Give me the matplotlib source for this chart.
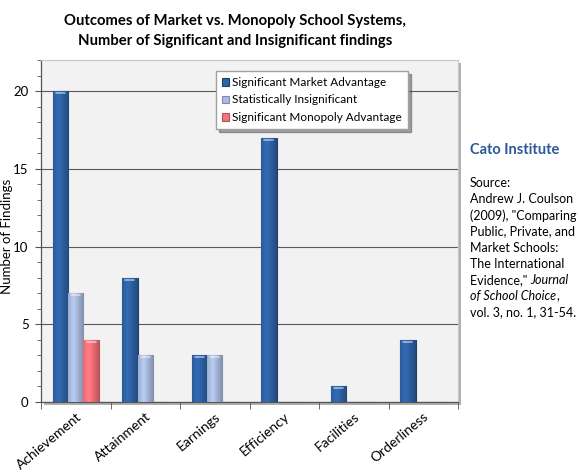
import numpy as np
import matplotlib.pyplot as plt
from matplotlib.colors import to_rgb
from matplotlib.patches import Rectangle
from matplotlib.ticker import MultipleLocator

categories = ['Achievement', 'Attainment', 'Earnings', 'Efficiency', 'Facilities', 'Orderliness']
market_adv = [20, 8, 3, 17, 1, 4]
insignificant = [7, 3, 3, 0, 0, 0]
monopoly_adv = [4, 0, 0, 0, 0, 0]

series_names = ['Significant Market Advantage', 'Statistically Insignificant',
                'Significant Monopoly Advantage']
series_colors = ['#2f62a6', '#a9bbdf', '#f7727c']
edge_colors = ['#1d3f6e', '#7b8db0', '#b85058']

plt.rcParams['font.family'] = ['Lato', 'DejaVu Sans']

fig = plt.figure(figsize=(5.8, 4.72), dpi=100)
fig.patch.set_facecolor('white')

left, bottom, width, height = 41 / 580, 70 / 472, 417 / 580, 342 / 472

# shadow behind plot area
shadow = Rectangle((left + 3 / 580, bottom - 3 / 472), width, height,
                   transform=fig.transFigure, facecolor='#b0b0b0', edgecolor='none', zorder=0)
fig.patches.append(shadow)

ax = fig.add_axes([left, bottom, width, height])
ax.set_zorder(2)
ax.set_facecolor('#f2f2f2')

x = np.arange(len(categories))
bw = 0.222
all_series = [market_adv, insignificant, monopoly_adv]
grad = np.linspace(0, 1, 64)
shade = 1 - 1.5 * np.abs(grad - 0.35)
for i, vals in enumerate(all_series):
    offs = (i - 1) * bw
    bars = ax.bar(x + offs, vals, width=bw, color=series_colors[i], edgecolor=edge_colors[i],
                  linewidth=0.8, label=series_names[i], zorder=3)
    # cylinder-like shading
    base = np.array(to_rgb(series_colors[i]))
    img = np.clip(base[None, None, :] * (0.75 + 0.35 * shade[None, :, None]), 0, 1)
    for b in bars:
        if b.get_height() <= 0:
            continue
        x0, w, h = b.get_x(), b.get_width(), b.get_height()
        im = ax.imshow(img, extent=(x0, x0 + w, 0, h), aspect='auto', zorder=3.5,
                       interpolation='bilinear')
        im.set_clip_path(b)
        # top highlight
        ax.plot([x0 + w * 0.2, x0 + w * 0.8], [h - 0.12, h - 0.12], color='white',
                alpha=0.55, linewidth=1.2, zorder=4, solid_capstyle='round')

ax.set_xlim(-0.5, len(categories) - 0.5)
ax.set_ylim(0, 22)
ax.yaxis.set_major_locator(MultipleLocator(5))
ax.yaxis.set_minor_locator(MultipleLocator(1))
ax.grid(axis='y', which='major', color='#5a5a5a', linewidth=0.8, zorder=1)
ax.set_axisbelow(True)

ax.set_xticks(x)
ax.set_xticklabels(categories, rotation=40, ha='right', rotation_mode='anchor', fontsize=10)
ax.set_xticks(np.arange(-0.5, len(categories)), minor=True)
ax.tick_params(axis='x', which='major', length=0, pad=6)
ax.tick_params(axis='x', which='minor', length=5, color='#555555')
ax.tick_params(axis='y', which='major', length=4, color='#555555', labelsize=9.5, pad=5)
ax.tick_params(axis='y', which='minor', length=3, color='#555555')

for side in ['top', 'right']:
    ax.spines[side].set_color('#c8c8c8')
    ax.spines[side].set_linewidth(0.8)
for side in ['left', 'bottom']:
    ax.spines[side].set_color('#555555')
    ax.spines[side].set_linewidth(0.9)

fig.text(7.5 / 580, 1 - 236 / 472, 'Number of Findings', fontsize=9.5, rotation=90,
         ha='center', va='center')

leg = ax.legend(loc='upper left', bbox_to_anchor=(0.405, 0.985), fontsize=8.5, frameon=True,
                fancybox=False, shadow=True, borderpad=0.5, handlelength=0.6,
                handleheight=0.6, handletextpad=0.3, labelspacing=0.55)
leg.get_frame().set_edgecolor('#a0a0a0')
leg.get_frame().set_facecolor('white')

fig.text(235 / 580, 0.97, 'Outcomes of Market vs. Monopoly School Systems,\n'
         'Number of Significant and Insignificant findings',
         ha='center', va='top', fontsize=10.7, fontweight='bold', linespacing=1.55)

tx = 470 / 580
fig.text(tx, 1 - 150 / 472, 'Cato Institute', color='#2a5a98', fontsize=10.5,
         fontweight='bold', va='center', ha='left')
src_lines = ['Source:', 'Andrew J. Coulson', '(2009), "Comparing', 'Public, Private, and',
             'Market Schools:', 'The International']
lh = 16.2
fs = 9
for k, line in enumerate(src_lines):
    fig.text(tx, 1 - (183 + k * lh) / 472, line, fontsize=fs, va='center', ha='left')
t1 = fig.text(tx, 1 - (183 + 6 * lh) / 472, 'Evidence," ', fontsize=fs, va='center', ha='left')
ax.annotate('Journal', xy=(1, 0.5), xycoords=t1, va='center', ha='left',
            fontsize=fs, style='italic', annotation_clip=False)
t2 = fig.text(tx, 1 - (183 + 7 * lh) / 472, 'of School Choice', fontsize=fs, va='center',
              ha='left', style='italic')
ax.annotate(',', xy=(1, 0.5), xycoords=t2, va='center', ha='left', fontsize=fs,
            annotation_clip=False)
fig.text(tx, 1 - (183 + 8 * lh) / 472, 'vol. 3, no. 1, 31-54.', fontsize=fs,
         va='center', ha='left')

fig.savefig('out.png', dpi=100)
